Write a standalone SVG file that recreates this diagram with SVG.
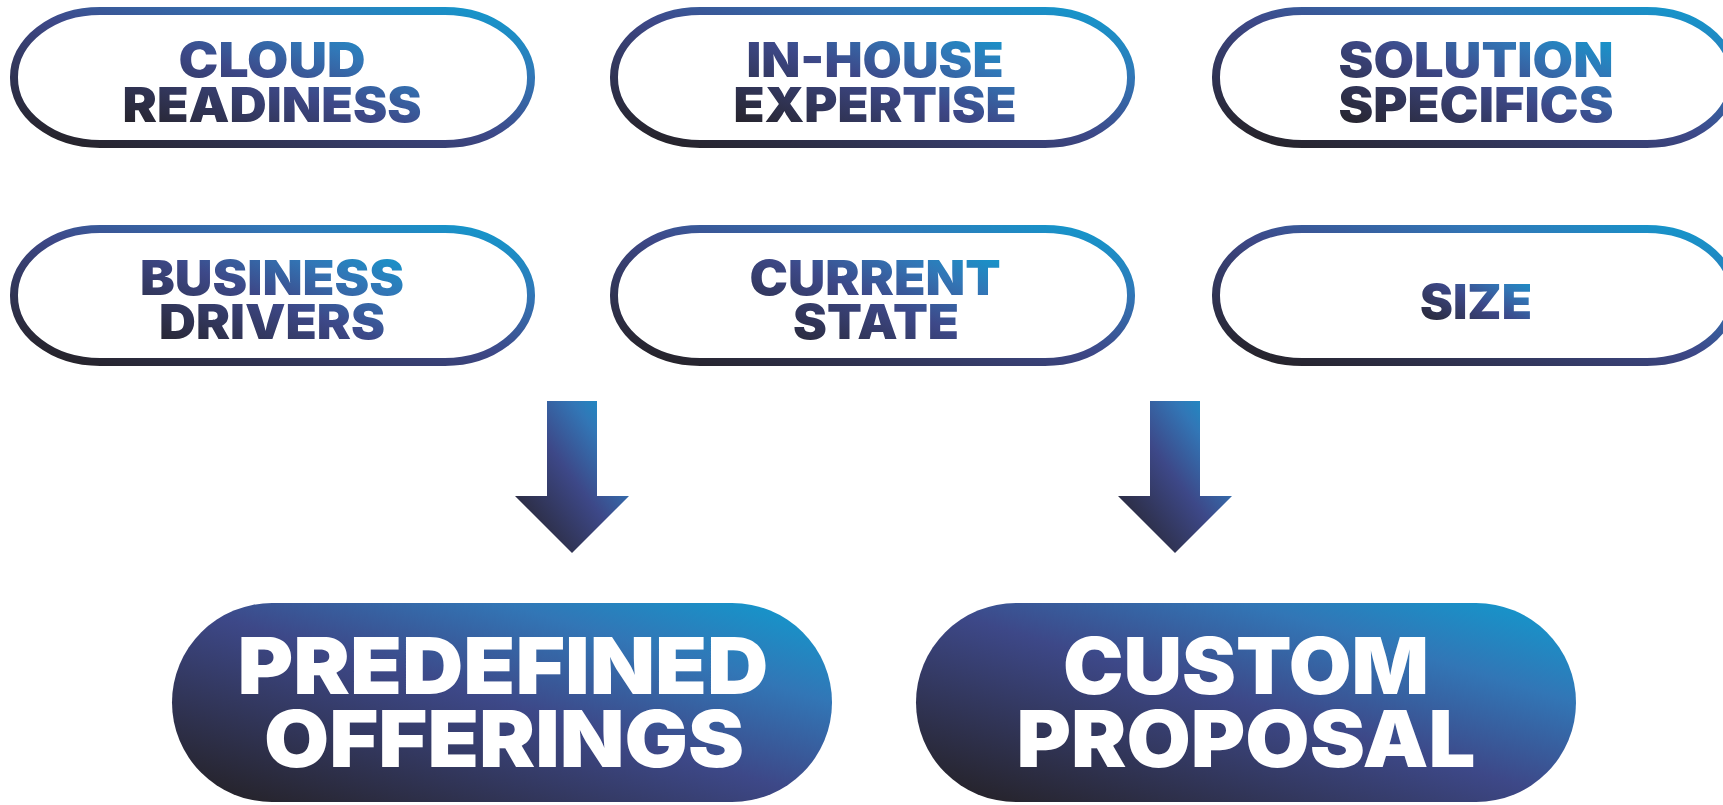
<svg xmlns="http://www.w3.org/2000/svg" width="1723" height="805" viewBox="0 0 1723 805">
<defs>
<linearGradient id="gr" x1="0" y1="1" x2="1" y2="0">
<stop offset="0" stop-color="#231f20"/>
<stop offset="0.5" stop-color="#3d4888"/>
<stop offset="0.75" stop-color="#3276b6"/>
<stop offset="1" stop-color="#0f9ccf"/>
</linearGradient>
<style>
.pill{fill:#fff;stroke:url(#gr);stroke-width:8}
.big{fill:url(#gr)}
.t{font-family:Inter,"Liberation Sans",sans-serif;font-weight:900;text-anchor:middle;fill:url(#gr);font-size:48px}
.w{font-family:Inter,"Liberation Sans",sans-serif;font-weight:900;text-anchor:middle;fill:#fff;font-size:79px}
.arrow{fill:url(#gr)}
</style>
</defs>
<rect width="1723" height="805" fill="#fff"/>
<g id="cloud-readiness">
<rect class="pill" x="14" y="11" width="517" height="133" rx="86" ry="66"/>
<text class="t"><tspan x="272" y="77" textLength="187" lengthAdjust="spacingAndGlyphs">CLOUD</tspan><tspan x="272" y="122" textLength="299" lengthAdjust="spacingAndGlyphs">READINESS</tspan></text>
</g>
<g id="in-house-expertise">
<rect class="pill" x="614" y="11" width="517" height="133" rx="86" ry="66"/>
<text class="t"><tspan x="875" y="77" textLength="257" lengthAdjust="spacingAndGlyphs">IN-HOUSE</tspan><tspan x="875" y="122" textLength="283" lengthAdjust="spacingAndGlyphs">EXPERTISE</tspan></text>
</g>
<g id="solution-specifics">
<rect class="pill" x="1216" y="11" width="517" height="133" rx="86" ry="66"/>
<text class="t"><tspan x="1476" y="77" textLength="275" lengthAdjust="spacingAndGlyphs">SOLUTION</tspan><tspan x="1476" y="122" textLength="275" lengthAdjust="spacingAndGlyphs">SPECIFICS</tspan></text>
</g>
<g id="business-drivers">
<rect class="pill" x="14" y="229" width="517" height="133" rx="86" ry="66"/>
<text class="t"><tspan x="272" y="295" textLength="264" lengthAdjust="spacingAndGlyphs">BUSINESS</tspan><tspan x="272" y="339" textLength="226" lengthAdjust="spacingAndGlyphs">DRIVERS</tspan></text>
</g>
<g id="current-state">
<rect class="pill" x="614" y="229" width="517" height="133" rx="86" ry="66"/>
<text class="t"><tspan x="875" y="295" textLength="251" lengthAdjust="spacingAndGlyphs">CURRENT</tspan><tspan x="876" y="339" textLength="166" lengthAdjust="spacingAndGlyphs">STATE</tspan></text>
</g>
<g id="size">
<rect class="pill" x="1216" y="229" width="517" height="133" rx="86" ry="66"/>
<text class="t" x="1476" y="319" textLength="112" lengthAdjust="spacingAndGlyphs">SIZE</text>
</g>
<g id="connectors">
<polygon class="arrow" points="547,401 597,401 597,496 629,496 572,553 515,496 547,496"/>
<polygon class="arrow" points="1150,401 1200,401 1200,496 1232,496 1175,553 1118,496 1150,496"/>
</g>
<g id="predefined-offerings">
<rect class="big" x="172" y="603" width="660" height="199" rx="100" ry="99.5"/>
<text class="w"><tspan x="503" y="694" textLength="531" lengthAdjust="spacingAndGlyphs">PREDEFINED</tspan><tspan x="504" y="767" textLength="480" lengthAdjust="spacingAndGlyphs">OFFERINGS</tspan></text>
</g>
<g id="custom-proposal">
<rect class="big" x="916" y="603" width="660" height="199" rx="100" ry="99.5"/>
<text class="w"><tspan x="1246" y="694" textLength="366" lengthAdjust="spacingAndGlyphs">CUSTOM</tspan><tspan x="1246" y="767" textLength="459" lengthAdjust="spacingAndGlyphs">PROPOSAL</tspan></text>
</g>
</svg>
